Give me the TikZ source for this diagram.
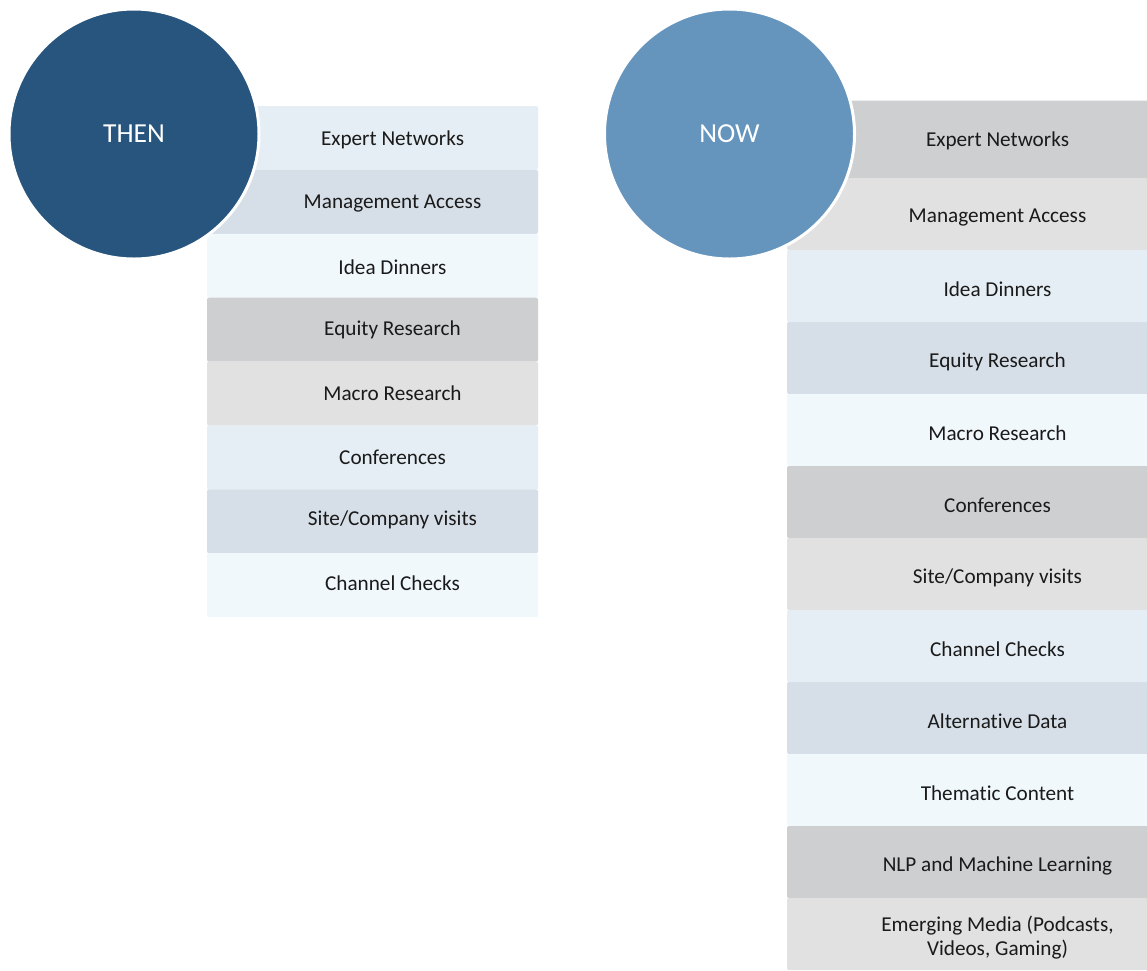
\documentclass[tikz,border=0pt]{standalone}
\usepackage{fontspec}
\setmainfont[Ligatures=NoCommon]{Carlito}
\usetikzlibrary{calc}
\definecolor{cgray}{HTML}{CDCFD1}
\definecolor{clgray}{HTML}{E1E1E1}
\definecolor{clblue}{HTML}{E5EEF4}
\definecolor{cbgray}{HTML}{D6DFE8}
\definecolor{cvlblue}{HTML}{F0F8FC}
\definecolor{thenblue}{HTML}{28557D}
\definecolor{nowblue}{HTML}{6594BD}
\definecolor{txt}{HTML}{1A1A1A}
\begin{document}
\begin{tikzpicture}[x=1pt,y=-1pt,
  thenbox/.style={rectangle, rounded corners=2pt, inner sep=0pt, minimum width=331pt, minimum height=63.9pt},
  nowbox/.style={rectangle, rounded corners=2pt, inner sep=0pt, minimum width=365pt, minimum height=72pt},
  lbl/.style={text=txt, font=\fontsize{21.2}{24}\selectfont, align=center, inner sep=0pt},
  bigcirc/.style={circle, draw=white, line width=3pt, minimum size=250pt, inner sep=0pt, text=white, font=\fontsize{27.5}{32}\selectfont}]
\clip (0,0) rectangle (1147,970);
\fill[white] (0,0) rectangle (1147,970);
% THEN column
\foreach \i/\c/\t in {0/clblue/Expert Networks,1/cbgray/Management Access,2/cvlblue/Idea Dinners,3/cgray/Equity Research,4/clgray/Macro Research,5/clblue/Conferences,6/cbgray/Site\slash Company visits,7/cvlblue/Channel Checks}{
  \node[thenbox, fill=\c] (tb\i) at (372.5,{106+63.9*\i+31.95}) {};
  \node[lbl] (tl\i) at ($(tb\i.center)+(20,{2.2-0.55*\i})$) {\t};
}
% NOW column
\node[nowbox, fill=cgray, minimum height=78pt] (nb0) at (969.5,139.5) {};
\node[lbl] (nl0) at ($(nb0.center)+(28,1)$) {Expert Networks};
\foreach \i/\c/\t in {1/clgray/Management Access,2/clblue/Idea Dinners,3/cbgray/Equity Research,4/cvlblue/Macro Research,5/cgray/Conferences,6/clgray/Site\slash Company visits,7/clblue/Channel Checks,8/cbgray/Alternative Data,9/cvlblue/Thematic Content,10/cgray/NLP and Machine Learning}{
  \node[nowbox, fill=\c] (nb\i) at (969.5,{178+72*(\i-1)+36}) {};
  \node[lbl] (nl\i) at ($(nb\i.center)+(28,3.5)$) {\t};
}
\node[nowbox, fill=clgray] (nb11) at (969.5,{178+72*10+36}) {};
\node[lbl] (nl11) at ($(nb11.center)+(28,3.5)$) {Emerging Media (Podcasts,\\Videos, Gaming)};
% circles
\node[bigcirc, fill=thenblue] (then) at (134,134) {THEN};
\node[bigcirc, fill=nowblue] (now) at (729.5,134) {NOW};
\end{tikzpicture}
\end{document}
